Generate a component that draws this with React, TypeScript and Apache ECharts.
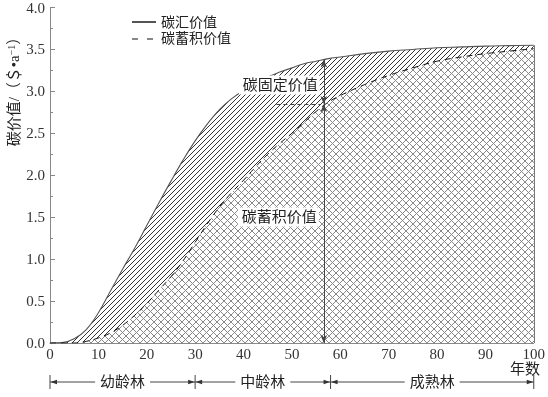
import React, { useEffect, useRef } from 'react';
import * as echarts from 'echarts';

// ---- data ----
const years = [0, 2.5, 5, 7.5, 10, 12.5, 15, 17.5, 20, 22.5, 25, 27.5, 30, 32.5, 35, 37.5, 40, 42.5, 45, 47.5, 50, 52.5, 55, 57.5, 60, 65, 70, 75, 80, 85, 90, 95, 100];
const sinkValues = [0, 0.005, 0.05, 0.16, 0.36, 0.62, 0.88, 1.13, 1.4, 1.67, 1.93, 2.18, 2.41, 2.61, 2.78, 2.91, 3.01, 3.09, 3.17, 3.23, 3.28, 3.33, 3.36, 3.39, 3.41, 3.45, 3.48, 3.5, 3.52, 3.53, 3.54, 3.545, 3.55];
const stockValues = [0, 0, 0, 0.02, 0.06, 0.12, 0.21, 0.33, 0.47, 0.63, 0.79, 0.98, 1.2, 1.42, 1.62, 1.79, 1.94, 2.1, 2.25, 2.38, 2.5, 2.63, 2.76, 2.87, 2.95, 3.08, 3.19, 3.28, 3.36, 3.41, 3.45, 3.48, 3.51];
const seriesNames = ['碳汇价值', '碳蓄积价值'];
const stageBounds = [0, 30, 58, 100];
const stageNames = ['幼龄林', '中龄林', '成熟林'];
// annotation arrow (year, stock value, sink value)
const arrowYear = 56.6;
const arrowStock = 2.85;
const arrowSink = 3.38;
const leaderStartYear = 46.8;
const annotationTexts = ['碳固定价值', '碳蓄积价值'];
const yAxisName = ['碳价值/（＄•a', '−1', '）'];
const xAxisName = '年数';

const FONT = "'Liberation Serif', 'Noto Sans CJK SC', serif";

function makeHatch(T: number, p: number, both: boolean, color: string, bg: string | null) {
  const c = document.createElement('canvas');
  c.width = T;
  c.height = T;
  const ctx = c.getContext('2d')!;
  if (bg) {
    ctx.fillStyle = bg;
    ctx.fillRect(0, 0, T, T);
  }
  ctx.strokeStyle = color;
  ctx.lineWidth = 1;
  ctx.beginPath();
  for (let k = 0; k <= 2 * T; k += p) {
    ctx.moveTo(k, 0);
    ctx.lineTo(k - T, T);
  }
  if (both) {
    for (let k = -T; k <= T; k += p) {
      ctx.moveTo(k, 0);
      ctx.lineTo(k + T, T);
    }
  }
  ctx.stroke();
  return { image: c.toDataURL(), repeat: 'repeat', imageWidth: T, imageHeight: T };
}

export default function App() {
  const ref = useRef<HTMLDivElement>(null);
  useEffect(() => {
    if (!ref.current) return;
    const chart = echarts.init(ref.current, undefined, { renderer: 'svg' });
    const diag = makeHatch(20, 5, false, '#333', '#fff');
    const cross = makeHatch(28, 7, true, '#888', '#fff');
    const last = years.length - 1;

    const axisCommon = {
      axisLine: { lineStyle: { color: '#888', width: 1 } },
      axisTick: { inside: true, length: 5, lineStyle: { color: '#888' } },
      minorTick: { show: true, splitNumber: 2, length: 4, lineStyle: { color: '#888' } },
      splitLine: { show: false },
    };

    chart.setOption({
      animation: false,
      grid: { left: 50, right: 6, top: 6, bottom: 54 },
      legend: {
        orient: 'vertical',
        left: 126,
        top: 10,
        itemWidth: 24,
        itemHeight: 10,
        itemGap: 3,
        itemStyle: { opacity: 0 },
        textStyle: { fontFamily: FONT, fontSize: 14, color: '#222' },
        data: [
          { name: seriesNames[0] },
          { name: seriesNames[1], lineStyle: { type: [6, 9], width: 1.2 } },
        ],
      },
      xAxis: {
        type: 'value',
        min: 0,
        max: 100,
        interval: 10,
        ...axisCommon,
        axisLabel: { color: '#333', fontFamily: FONT, fontSize: 15, margin: 3 },
      },
      yAxis: {
        type: 'value',
        min: 0,
        max: 4,
        interval: 0.5,
        ...axisCommon,
        minorTick: { show: true, splitNumber: 2, length: 3, lineStyle: { color: '#888' } },
        axisLabel: {
          color: '#333',
          fontFamily: FONT,
          fontSize: 15,
          margin: 5,
          formatter: (v: number) => v.toFixed(1),
        },
      },
      series: [
        {
          name: seriesNames[0],
          type: 'line',
          data: years.map((x, i) => [x, sinkValues[i]]),
          smooth: 0.4,
          symbol: 'none',
          lineStyle: { color: '#555', width: 1.1 },
          itemStyle: { color: '#555' },
          areaStyle: { color: diag, opacity: 1 },
          z: 2,
          markLine: {
            silent: true,
            symbol: 'none',
            label: { show: false },
            lineStyle: { color: '#777', type: 'solid', width: 1 },
            data: [[{ coord: [years[last], 0] }, { coord: [years[last], sinkValues[last]] }]],
          },
        },
        {
          name: seriesNames[1],
          type: 'line',
          data: years.map((x, i) => [x, stockValues[i]]),
          smooth: 0.4,
          symbol: 'none',
          lineStyle: { color: '#111', width: 1, type: [6, 5] },
          itemStyle: { color: '#111' },
          areaStyle: { color: cross, opacity: 1 },
          z: 3,
          markLine: {
            silent: true,
            symbol: ['arrow', 'arrow'],
            symbolSize: [5, 8],
            label: { show: false },
            lineStyle: { color: '#444', type: 'solid', width: 1 },
            data: [
              [{ coord: [arrowYear, arrowStock] }, { coord: [arrowYear, arrowSink] }],
              [{ coord: [arrowYear, 0] }, { coord: [arrowYear, arrowStock] }],
              [
                { coord: [leaderStartYear, arrowStock], symbol: 'none', lineStyle: { type: [4, 3], color: '#444' } },
                { coord: [arrowYear - 0.6, arrowStock], symbol: 'none' },
              ],
            ],
          },
        },
      ],
    });

    const px = (v: number) => chart.convertToPixel({ xAxisIndex: 0 }, v) as number;
    const ax = px(arrowYear);
    const ry = 382;
    const graphics: any[] = [
      {
        type: 'text',
        x: 14,
        y: 88,
        rotation: Math.PI / 2,
        z: 100,
        style: {
          text: `{n|${yAxisName[0]}}{s|${yAxisName[1]}}{n|${yAxisName[2]}}`,
          rich: {
            n: { fontSize: 15, fontFamily: FONT, fill: '#222' },
            s: { fontSize: 10, fontFamily: FONT, fill: '#222', verticalAlign: 'top' },
          },
          align: 'center',
          verticalAlign: 'middle',
          textAlign: 'center',
          textVerticalAlign: 'middle',
        },
      },
      {
        type: 'text',
        x: 540,
        y: 369,
        z: 100,
        style: {
          text: xAxisName, fontSize: 15, fontFamily: FONT, fill: '#222',
          align: 'right', verticalAlign: 'middle', textAlign: 'right', textVerticalAlign: 'middle',
        },
      },
      {
        type: 'text',
        x: ax - 4,
        y: 85,
        z: 100,
        style: {
          text: annotationTexts[0], fontSize: 15, fontFamily: FONT, fill: '#222',
          backgroundColor: '#fff', padding: [2, 2, 2, 4],
          align: 'right', verticalAlign: 'middle', textAlign: 'right', textVerticalAlign: 'middle',
        },
      },
      {
        type: 'text',
        x: ax - 5,
        y: 217,
        z: 100,
        style: {
          text: annotationTexts[1], fontSize: 15, fontFamily: FONT, fill: '#222',
          backgroundColor: '#fff', padding: [2, 2, 2, 4],
          align: 'right', verticalAlign: 'middle', textAlign: 'right', textVerticalAlign: 'middle',
        },
      },
    ];
    stageBounds.forEach((b) => {
      const x = px(b);
      graphics.push({ type: 'line', z: 100, shape: { x1: x, y1: ry - 7, x2: x, y2: ry + 7 }, style: { stroke: '#444', lineWidth: 1 } });
    });
    stageNames.forEach((name, i) => {
      const xa = px(stageBounds[i]);
      const xb = px(stageBounds[i + 1]);
      graphics.push({ type: 'line', z: 100, shape: { x1: xa, y1: ry, x2: xb, y2: ry }, style: { stroke: '#444', lineWidth: 1 } });
      graphics.push({ type: 'polygon', z: 100, shape: { points: [[xa + 0.5, ry], [xa + 7, ry - 2.2], [xa + 7, ry + 2.2]] }, style: { fill: '#333' } });
      graphics.push({ type: 'polygon', z: 100, shape: { points: [[xb - 0.5, ry], [xb - 7, ry - 2.2], [xb - 7, ry + 2.2]] }, style: { fill: '#333' } });
      graphics.push({
        type: 'text', z: 101, x: (xa + xb) / 2, y: ry,
        style: {
          text: name, fontSize: 15, fontFamily: FONT, fill: '#222', backgroundColor: '#fff', padding: [0, 5],
          align: 'center', verticalAlign: 'middle', textAlign: 'center', textVerticalAlign: 'middle',
        },
      });
    });
    chart.setOption({ graphic: graphics });

    return () => chart.dispose();
  }, []);
  return <div ref={ref} style={{ position: 'fixed', left: 0, top: 0, width: 548, height: 397 }} />;
}
